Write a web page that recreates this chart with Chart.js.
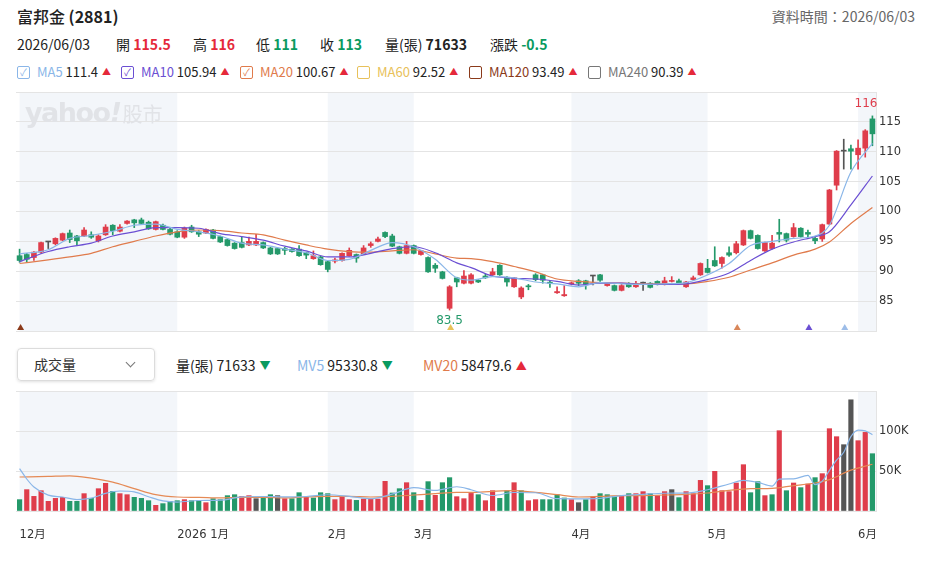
<!DOCTYPE html>
<html lang="zh-Hant">
<head>
<meta charset="utf-8">
<title>富邦金 (2881)</title>
<script src="https://cdn.jsdelivr.net/npm/chart.js@4.4.1/dist/chart.umd.min.js"></script>
<style>
  html, body { margin: 0; padding: 0; background: #fff; }
  body { position: relative; width: 925px; height: 572px; overflow: hidden;
         font-family: "Noto Sans CJK TC", "Noto Sans", sans-serif; color: #222; }
  .t { position: absolute; white-space: nowrap; line-height: 20px; }
  .up { color: #e5293a; }
  .dn { color: #0a9a5f; }
  .num { font-weight: 700; }
  .g { display: inline-flex; align-items: center; }
  .box { display: inline-block; box-sizing: border-box; width: 13px; height: 13px; border: 1.5px solid;
         border-radius: 2px; font-size: 10px; line-height: 10px; text-align: center; margin-right: 7px; }
  .tri { font-size: 9px; margin-left: 4px; }
  canvas { position: absolute; left: 0; }
  #wm { position: absolute; left: 25px; top: 97px; color: #e1e3e7; z-index: 2; white-space: nowrap; }
  #sel { position: absolute; left: 17px; top: 348px; width: 138px; height: 33px; box-sizing: border-box;
         border: 1px solid #dcdcdc; border-radius: 4px; box-shadow: 0 1px 3px rgba(0,0,0,.12); }
  #sel span { position: absolute; left: 16px; top: 0; line-height: 31px; font-size: 14px; color: #333; }
  #sel i { position: absolute; right: 20px; top: 10px; width: 6px; height: 6px; border-right: 1.5px solid #777;
           border-bottom: 1.5px solid #777; transform: rotate(45deg); }
</style>
</head>
<body>

<div class="t" style="left:17px;top:6px;font-size:16px;"><span style="font-weight:500">富邦金</span> <b>(2881)</b></div>
<div class="t" style="right:10px;top:6px;font-size:14px;color:#666;">資料時間：2026/06/03</div>

<div class="t" style="left:17px;top:34px;font-size:14px;">2026/06/03</div>
<div class="t" style="left:116px;top:34px;font-size:14px;">開 <span class="num up">115.5</span></div>
<div class="t" style="left:193px;top:34px;font-size:14px;">高 <span class="num up">116</span></div>
<div class="t" style="left:256px;top:34px;font-size:14px;">低 <span class="num dn">111</span></div>
<div class="t" style="left:320px;top:34px;font-size:14px;">收 <span class="num dn">113</span></div>
<div class="t" style="left:385px;top:34px;font-size:14px;">量(張) <span class="num">71633</span></div>
<div class="t" style="left:490px;top:34px;font-size:14px;">漲跌 <span class="num dn">-0.5</span></div>

<div class="t g" style="left:17px;top:62px;font-size:13px;"><span class="box" style="color:#8ab6e8">✓</span><span style="color:#8ab6e8">MA5</span>&nbsp;111.4<span class="tri up">▲</span></div>
<div class="t g" style="left:121px;top:62px;font-size:13px;"><span class="box" style="color:#6b4fd3">✓</span><span style="color:#6b4fd3">MA10</span>&nbsp;105.94<span class="tri up">▲</span></div>
<div class="t g" style="left:240px;top:62px;font-size:13px;"><span class="box" style="color:#e07b4c">✓</span><span style="color:#e07b4c">MA20</span>&nbsp;100.67<span class="tri up">▲</span></div>
<div class="t g" style="left:357px;top:62px;font-size:13px;"><span class="box" style="color:#e8c15a"></span><span style="color:#e8c15a">MA60</span>&nbsp;92.52<span class="tri up">▲</span></div>
<div class="t g" style="left:469px;top:62px;font-size:13px;"><span class="box" style="color:#8b3a1a"></span><span style="color:#8b3a1a">MA120</span>&nbsp;93.49<span class="tri up">▲</span></div>
<div class="t g" style="left:588px;top:62px;font-size:13px;"><span class="box" style="color:#777"></span><span style="color:#777">MA240</span>&nbsp;90.39<span class="tri up">▲</span></div>

<div id="wm"><span style="font:bold 27px 'DejaVu Sans';letter-spacing:-1.5px">yahoo<i>!</i></span><span style="font-size:20px;margin-left:2px">股市</span></div>

<div id="sel"><span>成交量</span><i></i></div>
<div class="t g" style="left:176px;top:355px;font-size:14px;">量(張)&nbsp;71633<span class="tri dn" style="font-size:11px">▼</span></div>
<div class="t g" style="left:297px;top:355px;font-size:14px;"><span style="color:#8ab6e8">MV5</span>&nbsp;95330.8<span class="tri dn" style="font-size:11px">▼</span></div>
<div class="t g" style="left:423px;top:355px;font-size:14px;"><span style="color:#e07b4c">MV20</span>&nbsp;58479.6<span class="tri up" style="font-size:11px">▲</span></div>

<canvas id="price" width="925" height="262" style="top:80px"></canvas>
<canvas id="vol" width="925" height="170" style="top:380px"></canvas>

<script>
// daily candles, 2025/12 .. 2026/06/03
const opens = [92.6,92.8,92.3,93.2,94.9,94.6,95.2,96.4,95.9,95.9, 96.1,95.1,96.1,97.7,96.7,98.0,98.6,98.6,98.2,97.0,
  97.7,97.0,96.6,95.7,97.4,96.6,96.4,96.9,95.8,95.3, 94.7,94.8,94.4,94.4,94.8,93.9,93.8,93.8,93.7,93.7,
  93.1,92.1,92.4,91.6,91.7,91.8,92.6,92.8,92.9,94.3, 95.0,96.5,95.9,94.1,93.0,94.3,92.8,92.3,91.0,89.9,
  83.8,88.9,88.0,88.0,88.5,89.2,89.4,91.0,89.0,87.4, 85.7,87.5,89.4,89.4,88.1,86.4,85.9,87.9,88.4,88.4,
  89.2,89.4,87.6,87.6,86.8,87.8,87.4,88.0,88.0,88.3, 87.8,88.3,88.4,87.4,88.6,89.4,90.5,91.8,91.3,93.1,
  93.1,94.4,96.8,96.0,93.4,93.8,96.5,96.3,95.8,97.2, 96.5,95.5,95.4,97.9,104.4,110.1,110.5,109.5,110.6,115.5];
const highs = [93.7,93.0,93.3,94.9,94.9,95.6,96.4,96.9,96.0,97.3, 96.6,96.1,97.8,97.8,97.8,98.5,98.7,98.9,98.4,98.4,
  97.9,97.2,96.8,97.4,97.7,96.8,97.1,97.0,95.9,95.4, 94.8,95.7,95.7,96.2,94.9,94.0,93.9,94.0,93.8,94.3,
  93.2,93.4,92.5,91.7,92.2,93.1,93.9,92.9,94.3,94.9, 95.7,96.6,96.2,94.2,95.0,94.4,93.5,92.4,91.3,90.0,
  87.6,89.0,90.1,89.6,88.6,89.5,90.5,91.1,89.1,89.0, 87.4,87.8,89.6,89.5,88.5,87.4,87.6,88.2,88.6,88.5,
  89.2,89.5,88.0,87.7,87.8,88.1,88.3,88.2,88.1,88.4, 89.0,89.1,88.7,88.3,89.2,91.4,92.0,94.1,92.4,94.1,
  95.0,96.9,96.9,96.1,94.9,96.0,98.7,96.4,98.0,97.3, 96.9,95.7,97.9,103.7,110.2,112.1,111.1,112.0,113.7,116.0];
const lows = [91.5,91.5,91.8,93.0,93.8,94.4,95.1,94.8,94.4,95.8, 95.5,94.9,96.0,96.1,96.6,97.9,97.3,97.9,97.0,96.9,
  96.9,96.1,95.6,95.5,96.5,95.8,96.3,95.4,94.8,94.2, 93.7,93.9,94.3,94.3,93.8,92.8,92.8,92.8,93.2,92.5,
  92.1,92.0,91.0,89.9,91.4,91.7,92.5,91.5,92.8,94.0, 94.9,95.6,94.1,92.9,92.9,92.9,92.7,89.8,89.8,88.7,
  83.5,87.4,87.9,87.9,88.1,88.8,89.3,89.3,87.5,87.3, 85.4,86.9,88.4,88.0,87.3,86.3,85.8,87.7,87.6,87.0,
  87.7,88.3,87.5,86.7,86.7,87.3,87.3,86.8,87.2,87.7, 87.7,88.2,87.9,87.3,88.5,89.3,89.7,90.8,90.5,92.5,
  92.9,94.3,95.4,93.7,93.3,93.7,94.9,94.9,95.7,95.7, 95.7,94.6,95.0,97.8,103.6,107.1,107.1,107.1,109.1,111.0];
const closes = [91.8,92.0,93.2,94.8,94.9,95.5,96.3,95.3,95.1,96.9, 95.7,95.9,97.4,96.8,97.4,98.4,98.1,98.0,97.1,98.3,
  97.0,96.2,95.7,97.2,96.6,96.2,97.0,95.5,94.9,94.3, 93.8,94.0,95.0,95.0,93.9,92.9,92.9,93.5,93.3,92.6,
  92.7,92.6,91.1,90.3,91.9,93.0,93.5,92.2,93.9,94.6, 95.4,95.8,94.2,93.0,94.3,93.0,93.4,89.9,90.5,88.8,
  87.4,88.2,89.2,89.4,88.2,88.9,89.9,89.4,88.2,88.9, 87.2,87.4,88.6,88.5,88.0,86.6,86.1,88.0,88.0,87.8,
  89.2,88.5,87.9,86.8,87.6,87.4,87.9,88.0,87.3,87.8, 88.4,88.4,88.0,88.2,88.9,91.3,89.8,90.9,92.3,92.7,
  94.6,96.8,95.5,93.8,94.8,94.7,96.2,95.2,97.3,95.8, 96.2,95.1,97.8,103.6,110.1,110.1,110.1,110.6,113.5,113.0];
const prevClose = 92.3;
const volumes = [14200,26700,18300,25400,12100,15800,17100,12100,12100,21700,
  15800,27900,34600,24600,21700,20400,17100,15800,12900,7100,
  9200,12100,12900,14200,12900,12900,10400,15400,14200,19200,
  20400,18300,19200,15400,17100,20400,19200,15400,15400,22900,
  17100,16300,22900,21700,14200,18300,14200,13300,15000,15000,
  15000,37100,22500,27900,35400,22900,13300,36700,19600,35400,
  41700,17900,15400,22000,20400,12900,25400,15800,25400,35400,
  25400,12900,14200,14200,14200,20400,16300,14200,10400,14200,
  17900,21700,20400,18300,18300,21700,21700,24200,21700,19200,
  24200,26700,16700,24200,21700,38300,31700,49600,25400,24200,
  35000,57900,22900,36700,19200,20400,100400,25400,35000,29200,
  33700,41700,46700,102900,92900,82900,139000,87900,98300,71633];

// moving averages at these bars
const maIdx = [0,4,7,10,13,16,19,22,25,28,31,34,37,40,43,46,49,52,55,58,61,63,66,69,72,75,78,81,84,87,90,93,96,99,102,105,108,111,113,116,119];
const ma5 = [92.9,93.6,95.5,96.0,96.7,97.7,97.9,97.0,96.6,95.9,94.7,94.4,93.7,93.1,91.8,92.0,93.5,94.8,94.1,92.0,
  88.9,88.5,89.1,88.9,88.2,87.9,87.4,88.1,87.9,87.8,87.9,88.1,89.4,91.3,94.3,95.0,95.5,95.9,97.7,106.6,111.4];
const ma10 = [91.6,93.3,94.1,94.7,95.9,96.6,97.3,97.3,97.2,96.3,95.8,95.2,94.2,93.4,92.4,92.4,93.0,93.8,94.1,93.1,
  91.4,90.6,89.2,88.8,88.7,88.3,87.7,88.0,88.0,87.8,87.8,87.9,88.6,89.7,91.8,93.7,94.9,95.8,96.6,101.1,105.94];
const ma20 = [91.3,91.9,92.4,93.0,94.1,95.0,95.9,96.6,96.9,96.8,96.4,96.1,95.2,94.4,93.7,93.3,93.2,93.4,93.6,92.9,
  92.2,92.1,91.6,90.8,89.9,88.7,88.3,88.1,88.0,87.9,87.9,87.9,88.3,89.0,90.2,91.4,92.7,93.7,94.9,98.0,100.67];

const mv5Idx = [0,1,2,4,6,8,10,12,14,16,18,20,22,25,28,31,34,37,40,43,46,49,52,55,58,61,63,66,69,72,
  75,78,81,84,87,90,93,96,99,101,103,105,106,108,110,111,112,113,114,115,116,117,118,119];
const mv5 = [53000,40000,30000,19800,17500,14200,16000,22000,25000,23800,17800,12600,11200,13100,13500,17600,18100,17600,18100,20300,
  18300,15300,21000,29100,25800,30300,26600,19400,23100,22800,15400,15200,15800,19300,20900,22200,22300,26600,33800,38400,
  35800,31200,39900,40200,44600,33000,37300,50800,63600,73400,92900,101100,100200,95330];
const mv20Idx = [0,4,7,10,13,16,19,22,25,28,31,34,37,40,43,46,49,52,55,58,61,63,66,69,72,75,78,81,84,87,90,93,96,99,102,105,108,111,113,116,119];
const mv20 = [42500,43300,44000,41000,36000,28000,20400,17500,17000,16300,17000,17000,16300,17500,18300,18300,17500,18300,20000,21700,
  23300,23300,24600,25400,23300,20400,17500,18300,19200,19200,20000,20800,22500,25800,27900,28300,31700,35000,39200,51100,58480];

// month axis
const monthStarts = [0, 22, 43, 55, 77, 96, 117];
const monthNames = ['12月', '2026 1月', '2月', '3月', '4月', '5月', '6月'];

// MA signal markers along the bottom of the price panel
const signalIdx = [0, 60, 100, 110, 115];
const signalColors = ['#8b3a1a', '#e8c15a', '#d9875a', '#6b4fd3', '#9dbde8'];

const RED = '#df3d4b', GREEN = '#24996a', GRAY = '#555555';
const C5 = '#8ab6e8', C10 = '#6b4fd3', C20 = '#e07b4c';
const GRID = '#e4e4e4', BAND = '#f3f6fa';
const TICK_FONT = { family: "'DejaVu Sans', 'Noto Sans CJK TC', sans-serif", size: 11.5 };

const bars = closes.map((_, i) => i);
const candleColors = closes.map((c, i) => c > opens[i] ? RED : c < opens[i] ? GREEN : GRAY);
const volColors = closes.map((c, i) => {
  const p = i ? closes[i - 1] : prevClose;
  return c > p ? RED : c < p ? GREEN : GRAY;
});
const pts = (idx, vals) => idx.map((x, k) => ({ x, y: vals[k] }));

const bands = {
  id: 'bands',
  beforeDraw(chart) {
    const { ctx, chartArea: a, scales: { x } } = chart;
    ctx.save();
    ctx.fillStyle = BAND;
    for (let k = 0; k < monthStarts.length; k += 2) {
      const x1 = x.getPixelForValue(monthStarts[k]);
      const x2 = k + 1 < monthStarts.length ? x.getPixelForValue(monthStarts[k + 1]) : a.right;
      ctx.fillRect(x1, a.top, x2 - x1, a.bottom - a.top);
    }
    ctx.restore();
  }
};

const priceMarks = {
  id: 'priceMarks',
  afterDatasetsDraw(chart) {
    const { ctx, chartArea: a, scales: { x, y } } = chart;
    const hi = highs.indexOf(Math.max(...highs));
    const lo = lows.indexOf(Math.min(...lows));
    ctx.save();
    ctx.font = "12px 'DejaVu Sans', sans-serif";
    ctx.fillStyle = RED;
    ctx.textAlign = 'right';
    ctx.textBaseline = 'bottom';
    ctx.fillText(String(highs[hi]), x.getPixelForValue(hi) + 5, y.getPixelForValue(highs[hi]) - 6);
    signalIdx.forEach((i, k) => {
      const px = x.getPixelForValue(i) + 1, py = a.bottom - 1;
      ctx.fillStyle = signalColors[k];
      ctx.beginPath();
      ctx.moveTo(px, py - 6);
      ctx.lineTo(px + 3.5, py);
      ctx.lineTo(px - 3.5, py);
      ctx.closePath();
      ctx.fill();
    });
    ctx.fillStyle = GREEN;
    ctx.textAlign = 'center';
    ctx.textBaseline = 'top';
    ctx.fillText(String(lows[lo]), x.getPixelForValue(lo), y.getPixelForValue(lows[lo]) + 5);
    ctx.restore();
  }
};

const line = (data, color, order) => ({
  type: 'line', data, borderColor: color, borderWidth: 1.2, pointRadius: 0,
  cubicInterpolationMode: 'monotone', order
});

const xScale = (extra) => Object.assign({
  type: 'category', labels: bars, offset: true,
  grid: { display: false, drawTicks: false }, border: { display: false }
}, extra);

new Chart(document.getElementById('price'), {
  type: 'bar',
  data: {
    datasets: [
      { data: lows.map((l, i) => [l, highs[i]]), backgroundColor: candleColors, barThickness: 1, grouped: false, order: 4 },
      { data: opens.map((o, i) => [o, closes[i]]), backgroundColor: candleColors, barThickness: 5, minBarLength: 1, grouped: false, order: 3 },
      line(pts(maIdx, ma20), C20, 2),
      line(pts(maIdx, ma10), C10, 1),
      line(pts(maIdx, ma5), C5, 0)
    ]
  },
  options: {
    responsive: false, animation: false, devicePixelRatio: 1,
    layout: { padding: { left: 16, right: 0, top: 12, bottom: 11 } },
    plugins: { legend: { display: false }, tooltip: { enabled: false } },
    scales: {
      x: xScale({ display: false }),
      y: {
        position: 'right', min: 80, max: 120,
        ticks: { stepSize: 5, padding: 3, color: '#333', font: TICK_FONT,
                 callback: v => (v > 80 && v < 120) ? v : '' },
        grid: { color: GRID, drawTicks: false },
        border: { display: true, color: GRID },
        afterFit(s) { s.width = 49; }
      }
    }
  },
  plugins: [bands, priceMarks]
});

new Chart(document.getElementById('vol'), {
  type: 'bar',
  data: {
    datasets: [
      { data: volumes, backgroundColor: volColors, barThickness: 4.5, order: 3 },
      line(pts(mv20Idx, mv20), '#e58a55', 1),
      line(pts(mv5Idx, mv5), C5, 0)
    ]
  },
  options: {
    responsive: false, animation: false, devicePixelRatio: 1,
    layout: { padding: { left: 16, right: 0, top: 11, bottom: 0 } },
    plugins: { legend: { display: false }, tooltip: { enabled: false } },
    scales: {
      x: xScale({
        ticks: {
          autoSkip: false, maxRotation: 0, minRotation: 0, align: 'start', padding: 17,
          color: '#333', font: TICK_FONT,
          callback: v => { const k = monthStarts.indexOf(v); return k >= 0 ? monthNames[k] : ''; }
        },
        afterFit(s) { s.height = 39; }
      }),
      y: {
        position: 'right', min: 0, max: 150000,
        ticks: { stepSize: 50000, padding: 3, color: '#333', font: TICK_FONT,
                 callback: v => (v > 0 && v < 150000) ? (v / 1000) + 'K' : '' },
        grid: { color: GRID, drawTicks: false },
        border: { display: true, color: GRID },
        afterFit(s) { s.width = 49; }
      }
    }
  },
  plugins: [bands]
});
</script>
</body>
</html>
